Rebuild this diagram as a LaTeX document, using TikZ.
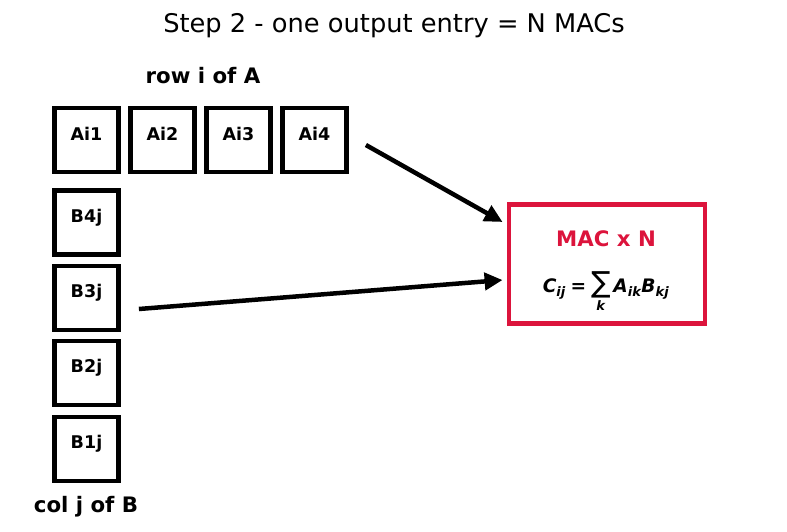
\documentclass[tikz,border=0pt]{standalone}
\usepackage{fontspec}
\usepackage{amsmath}
\setmainfont{DejaVu Sans}
\usetikzlibrary{arrows.meta,calc}
\definecolor{macred}{HTML}{DC143C}
\newcommand\bi[1]{\text{\bfseries\itshape #1}}
\begin{document}
\begin{tikzpicture}[x=1pt,y=-1pt,
  cell/.style={draw=black,line width=4.8pt,minimum width=64pt,minimum height=64pt,inner sep=0pt,fill=white},
  celltxt/.style={font=\fontsize{17.5}{19}\selectfont\bfseries},
  big/.style={font=\fontsize{21.3}{24}\selectfont\bfseries},
  arr/.style={line width=4.5pt,-{Triangle[length=18pt,width=17pt]}}]
\useasboundingbox (0,0) rectangle (787,531);
\node[font=\fontsize{25.7}{30}\selectfont] (title) at (394,26) {Step 2 - one output entry = N MACs};
\node[big] (rowlab) at (203,76) {row i of A};
\node[big] (collab) at (86,507) {col j of B};
\foreach \i/\x in {1/86.5,2/162.5,3/238.5,4/314.5}{
  \node[cell] (a\i) at (\x,140) {};
  \node[celltxt] (a\i t) at (\x,134) {Ai\i};
}
\foreach \i/\y in {4/222.5,3/298,2/373,1/449}{
  \node[cell] (b\i) at (86.5,\y) {};
  \node[celltxt] (b\i t) at (86.5,\y-5) {B\i j};
}
\node[draw=macred,line width=4.8pt,minimum width=196pt,minimum height=119pt,inner sep=0pt] (mac) at (607,264) {};
\node[big,text=macred] (mactxt) at (606,239) {MAC x N};
\node[font=\fontsize{18.6}{22}\selectfont] (formula) at (606,292)
  {$\bi{C}_{\bi{ij}}\mathrel{\text{\bfseries =}}\mathop{\text{\fontsize{29}{29}\selectfont ∑}}\limits_{\bi{k}}\bi{A}_{\bi{ik}}\bi{B}_{\bi{kj}}$};
\draw[arr] ($(a4.east)+(17pt,-5pt)$) -- ($(mac.west)+(-4pt,42pt)$);
\draw[arr] ($(b3.east)+(18pt,-11pt)$) -- ($(mac.west)+(-4pt,-16pt)$);
\end{tikzpicture}
\end{document}
